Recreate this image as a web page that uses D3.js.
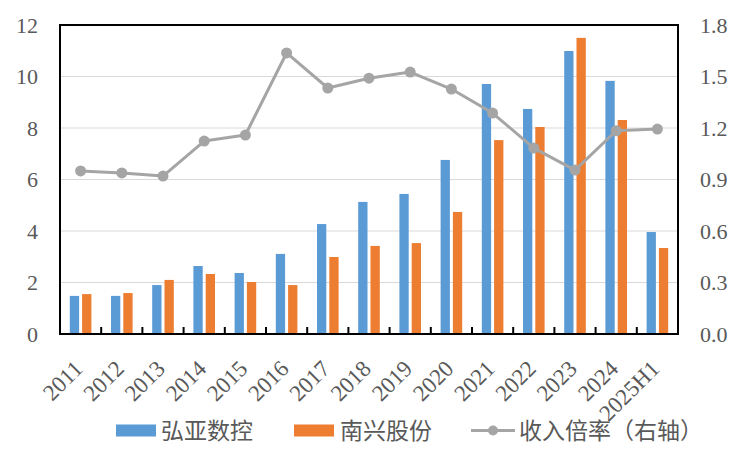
<!DOCTYPE html>
<html><head><meta charset="utf-8">
<script src="https://cdn.jsdelivr.net/npm/d3@7/dist/d3.min.js"></script>
<style>body{margin:0;background:#fff}</style>
</head><body>
<svg id="c" width="750" height="450"></svg>
<script>
const categories = ["2011","2012","2013","2014","2015","2016","2017","2018","2019","2020","2021","2022","2023","2024","2025H1"];
const hongya = [1.48,1.48,1.90,2.64,2.37,3.11,4.27,5.13,5.44,6.76,9.71,8.74,10.99,9.83,3.96];
const nanxing = [1.55,1.59,2.10,2.33,2.02,1.90,2.99,3.42,3.53,4.74,7.53,8.04,11.50,8.31,3.34];
const ratio = [0.95,0.938,0.92,1.124,1.159,1.637,1.433,1.49,1.526,1.427,1.287,1.083,0.955,1.184,1.194];
const leftTicks = [0,2,4,6,8,10,12];
const rightTicks = [0,0.3,0.6,0.9,1.2,1.5,1.8];
const seriesNames = ["弘亚数控","南兴股份","收入倍率（右轴）"];
const colors = ["#5B9BD5","#ED7D31","#A5A5A5"];

const svg = d3.select("#c");
const L=60,R=678,T=25,B=334;
const x = d3.scaleBand().domain(categories).range([L,R]);
const yL = d3.scaleLinear().domain([0,12]).range([B,T]);
const yR = d3.scaleLinear().domain([0,1.8]).range([B,T]);
const bw = 9.3, gap = 3;
const serif = '"Liberation Serif"';
const cjk = '"Noto Sans CJK SC"';

// gridlines
svg.append("g").selectAll("line").data(leftTicks.slice(1,-1)).join("line")
  .attr("x1",L).attr("x2",R).attr("y1",d=>yL(d)).attr("y2",d=>yL(d))
  .attr("stroke","#D9D9D9").attr("stroke-width",1.2);

// bars
const cx = d => x(d)+x.bandwidth()/2;
svg.append("g").selectAll("rect").data(categories).join("rect")
  .attr("x",(d)=>cx(d)-gap/2-bw).attr("width",bw)
  .attr("y",(d,i)=>yL(hongya[i])).attr("height",(d,i)=>B-yL(hongya[i]))
  .attr("fill",colors[0]);
svg.append("g").selectAll("rect").data(categories).join("rect")
  .attr("x",(d)=>cx(d)+gap/2).attr("width",bw)
  .attr("y",(d,i)=>yL(nanxing[i])).attr("height",(d,i)=>B-yL(nanxing[i]))
  .attr("fill",colors[1]);

// line
const line = d3.line().x((d,i)=>cx(categories[i])).y(d=>yR(d));
svg.append("path").datum(ratio).attr("d",line).attr("fill","none")
  .attr("stroke",colors[2]).attr("stroke-width",3).attr("stroke-linejoin","round");
svg.append("g").selectAll("circle").data(ratio).join("circle")
  .attr("cx",(d,i)=>cx(categories[i])).attr("cy",d=>yR(d)).attr("r",5.5)
  .attr("fill",colors[2]);

// frame
svg.append("rect").attr("x",L).attr("y",T).attr("width",R-L).attr("height",B-T)
  .attr("fill","none").attr("stroke","#000").attr("stroke-width",2);

// bottom ticks
svg.append("g").selectAll("line").data(categories.slice(1)).join("line")
  .attr("x1",d=>x(d)).attr("x2",d=>x(d)).attr("y1",B).attr("y2",B-7)
  .attr("stroke","#000").attr("stroke-width",2);

// left axis labels
const axL = d3.axisLeft(yL).tickValues(leftTicks).tickSize(0).tickPadding(22).tickFormat(d3.format("d"));
const gL = svg.append("g").attr("transform",`translate(${L},0)`).call(axL);
gL.select(".domain").remove();
gL.selectAll("text").style("font-family",serif).style("font-size","22px").attr("fill","#595959");

const axR = d3.axisRight(yR).tickValues(rightTicks).tickSize(0).tickPadding(22).tickFormat(d3.format(".1f"));
const gR = svg.append("g").attr("transform",`translate(${R},0)`).call(axR);
gR.select(".domain").remove();
gR.selectAll("text").style("font-family",serif).style("font-size","22px").attr("fill","#595959");

// x labels rotated
svg.append("g").selectAll("text").data(categories).join("text")
  .attr("transform",d=>`translate(${cx(d)+3.5},${B+36}) rotate(-45)`)
  .attr("text-anchor","end")
  .style("font-family",serif).style("font-size","23px").attr("fill","#595959")
  .text(d=>d);

// legend
const lg = svg.append("g");
const legY = 430.5;
lg.append("rect").attr("x",116).attr("y",legY-6).attr("width",40).attr("height",12).attr("fill",colors[0]);
lg.append("rect").attr("x",294).attr("y",legY-6).attr("width",40).attr("height",12).attr("fill",colors[1]);
lg.append("line").attr("x1",471).attr("x2",515).attr("y1",legY).attr("y2",legY).attr("stroke",colors[2]).attr("stroke-width",3);
lg.append("circle").attr("cx",493).attr("cy",legY).attr("r",5).attr("fill",colors[2]);
lg.selectAll("text").data(seriesNames).join("text")
  .attr("x",(d,i)=>[161,340,519][i]).attr("y",legY).attr("dy","0.36em")
  .style("font-family",cjk).style("font-size","23px").attr("fill","#595959")
  .text(d=>d);
</script>
</body></html>
